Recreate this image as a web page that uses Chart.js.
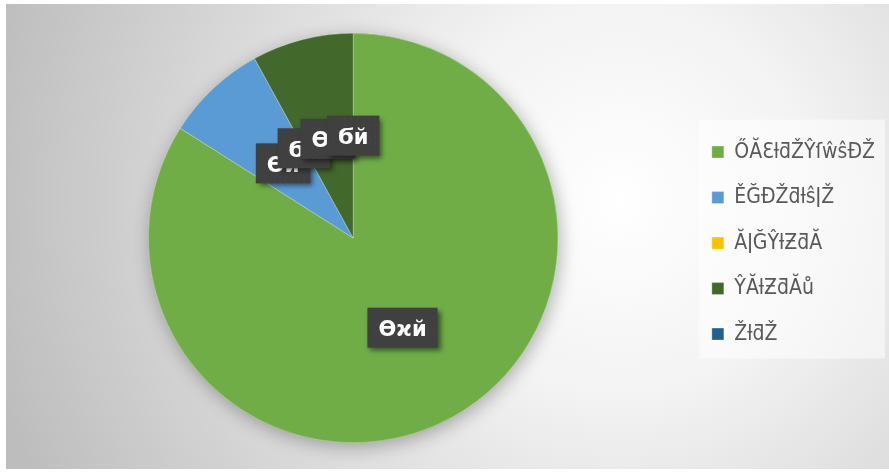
<!DOCTYPE html>
<html>
<head>
<meta charset="utf-8">
<script src="https://cdn.jsdelivr.net/npm/chart.js@4.4.0/dist/chart.umd.min.js"></script>
<style>
  html, body { margin: 0; padding: 0; background: #fff; }
  canvas { display: block; }
</style>
</head>
<body>
<canvas id="myChart" width="889" height="472"></canvas>
<script>
// data
const categories = ["ŐĂƐƚƌŽŶſŵŝĐŽ", "ĚĞƉŽƌƚŝǀŽ", "ĂǀĞŶƚƵƌĂ", "ŶĂƚƵƌĂů", "ŽƚƌŽ"];
const shares = [84, 8, 0, 8, 0];
const shareLabels = ["ϴϰй", "ϴй", "Ϭй", "ϴй", "Ϭй"];
const sliceColors = ["#70AD47", "#5B9BD5", "#FFC000", "#43682B", "#255E91"];

// grey radial backdrop + lighter panel behind the legend
const backdrop = {
  id: 'backdrop',
  beforeDraw(chart) {
    const c = chart.ctx;
    c.save();
    c.fillStyle = '#fff';
    c.fillRect(0, 0, chart.width, chart.height);
    const g = c.createRadialGradient(620, 200, 0, 620, 200, 650);
    g.addColorStop(0, '#ffffff');
    g.addColorStop(0.3, '#f3f3f3');
    g.addColorStop(1, '#bdbdbd');
    c.fillStyle = g;
    c.fillRect(6, 4, 883, 465);
    const boxes = chart.legend.legendHitBoxes;
    if (boxes && boxes.length) {
      const top = boxes[0].top - 22;
      const bottom = boxes[boxes.length - 1].top + boxes[boxes.length - 1].height + 14;
      c.fillStyle = 'rgba(255,255,255,0.5)';
      c.fillRect(boxes[0].left - 13, top, 885 - boxes[0].left + 13, bottom - top);
    }
    c.restore();
  },
  beforeDatasetsDraw(chart) {
    // soft shadow under the pie
    const arc = chart.getDatasetMeta(0).data[0];
    const c = chart.ctx;
    c.save();
    c.shadowColor = 'rgba(0,0,0,0.3)';
    c.shadowBlur = 18;
    c.shadowOffsetX = 2;
    c.shadowOffsetY = 4;
    c.fillStyle = '#70AD47';
    c.beginPath();
    c.arc(arc.x, arc.y, arc.outerRadius, 0, Math.PI * 2);
    c.fill();
    c.restore();
  }
};

// dark data label boxes at half radius
const valueBoxes = {
  id: 'valueBoxes',
  afterDatasetsDraw(chart) {
    const c = chart.ctx;
    const arcs = chart.getDatasetMeta(0).data;
    c.save();
    c.font = 'bold 21px "DejaVu Sans", sans-serif';
    c.textAlign = 'center';
    c.textBaseline = 'middle';
    arcs.forEach((arc, i) => {
      const p = arc.getCenterPoint();
      const w = c.measureText(shareLabels[i]).width + 22;
      const h = 40;
      const x = p.x - w / 2, y = p.y - h / 2;
      c.shadowColor = 'rgba(0,0,0,0.5)';
      c.shadowBlur = 5;
      c.shadowOffsetX = 3;
      c.shadowOffsetY = 3;
      c.fillStyle = '#404040';
      c.fillRect(x, y, w, h);
      c.shadowColor = 'transparent';
      c.fillStyle = 'rgba(255,255,255,0.07)';
      for (let yy = y + 3; yy < y + h; yy += 6) {
        for (let xx = x + 3 + ((yy - y) % 12 ? 3 : 0); xx < x + w; xx += 6) {
          c.fillRect(xx, yy, 1, 1);
        }
      }
      c.fillStyle = '#fff';
      c.fillText(shareLabels[i], p.x, p.y + 3);
    });
    c.restore();
  }
};

var ctx = document.getElementById('myChart').getContext('2d');
var chart = new Chart(ctx, {
  type: 'pie',
  data: {
    labels: categories,
    datasets: [{
      data: shares,
      backgroundColor: sliceColors,
      borderColor: 'rgba(255,255,255,0.6)',
      borderWidth: 0.5
    }]
  },
  options: {
    responsive: false,
    animation: false,
    devicePixelRatio: 1,
    layout: { padding: { left: 19, right: 4, top: 33, bottom: 29 } },
    plugins: {
      tooltip: { enabled: false },
      legend: {
        position: 'right',
        title: { display: true, text: '', padding: 4.5, font: { size: 1 } },
        labels: {
          boxWidth: 12,
          boxHeight: 12,
          padding: 24.5,
          color: '#595959',
          font: { size: 21, family: '"DejaVu Sans Condensed", "DejaVu Sans", sans-serif' }
        }
      }
    }
  },
  plugins: [backdrop, valueBoxes]
});
</script>
</body>
</html>
